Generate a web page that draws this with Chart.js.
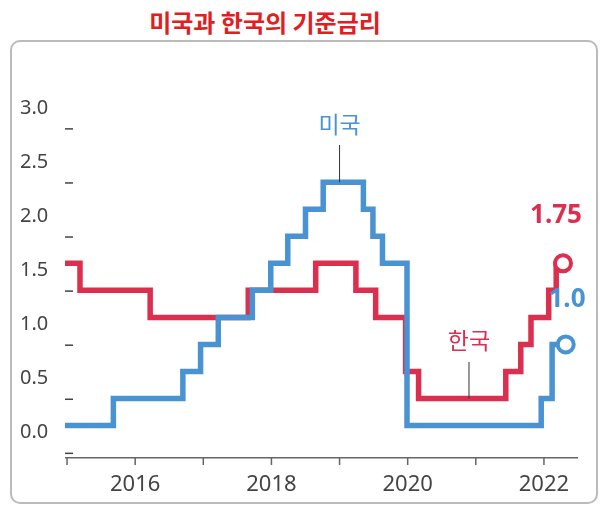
<!DOCTYPE html><html><head><meta charset="utf-8">
<script src="https://cdn.jsdelivr.net/npm/chart.js@4"></script>
<style>body{margin:0;background:#fff;font-family:"Noto Sans CJK KR","Noto Sans",sans-serif}
#frame{position:absolute;left:10px;top:40px;width:588px;height:464px;border:2px solid #bbb;border-radius:10px;box-sizing:border-box}
#title{position:absolute;top:4px;left:0;width:530px;text-align:center;color:#e02020;font-weight:bold;font-size:24px}
#wrap{position:absolute;left:0;top:0;width:612px;height:514px}</style></head><body>
<div id="title">미국과 한국의 기준금리</div><div id="frame"></div>
<div id="wrap"><canvas id="c" width="612" height="514"></canvas></div>
<script>
const yearTicks=[2016,2018,2020,2022];
const yTicks=[0,0.5,1,1.5,2,2.5,3];
const usTimes=[2014.97,2015.68,2016.7,2016.96,2017.22,2017.72,2017.99,2018.24,2018.5,2018.76,2019.35,2019.49,2019.63,2019.99,2021.96,2022.12,2022.32];
const usValues=[0.25,0.5,0.75,1.0,1.25,1.5,1.75,2.0,2.25,2.5,2.25,2.0,1.75,0.25,0.5,1.0,1.0];
const krTimes=[2014.97,2015.19,2016.22,2017.66,2018.65,2019.24,2019.53,2019.97,2020.16,2021.44,2021.66,2021.81,2022.07,2022.18,2022.28];
const krValues=[1.75,1.5,1.25,1.5,1.75,1.5,1.25,0.75,0.5,0.75,1.0,1.25,1.5,1.75,1.75];
const US='#4a93d2',KR='#dc2f4f';
function pts(t,v){return t.map((x,i)=>({x,y:v[i]}));}
function radii(n){return Array.from({length:n},(_,i)=>i===n-1?8:0);}
const deco={id:'deco',afterDatasetsDraw(ch){const c=ch.ctx,x=ch.scales.x,y=ch.scales.y;c.save();
c.fillStyle='#444';c.font='20px "Noto Sans", sans-serif';c.textAlign='left';c.textBaseline='middle';
yTicks.forEach(v=>{const py=y.getPixelForValue(v);c.fillText(v.toFixed(1),20,py-20);c.fillRect(65,py,8,1.5);});
c.textAlign='center';c.font='22px "Noto Sans", sans-serif';c.fillStyle='#444';
yearTicks.forEach(yr=>c.fillText(String(yr),x.getPixelForValue(yr),485));
c.fillStyle='#666';for(let yr=2015;yr<=2022;yr++){c.fillRect(x.getPixelForValue(yr)-0.75,458,1.5,7);}
c.fillRect(x.left,457,x.right-x.left,1.5);
c.strokeStyle='#333';c.lineWidth=1;c.beginPath();
c.moveTo(x.getPixelForValue(2019.0),y.getPixelForValue(2.5));c.lineTo(x.getPixelForValue(2019.0),145);
c.moveTo(x.getPixelForValue(2020.9),y.getPixelForValue(0.5));c.lineTo(x.getPixelForValue(2020.9),362);c.stroke();
c.font='23px "Noto Sans CJK KR", sans-serif';c.fillStyle=US;c.fillText('미국',x.getPixelForValue(2019.0),124);
c.fillStyle=KR;c.fillText('한국',x.getPixelForValue(2020.9),340);
c.font='bold 26px "Noto Sans", sans-serif';c.fillText('1.75',556,216);
c.fillStyle=US;c.fillText('1.0',567,300);c.restore();}};
new Chart(document.getElementById('c'),{type:'line',
data:{datasets:[
{data:pts(usTimes,usValues),borderColor:US,borderWidth:5.5,stepped:'before',pointRadius:radii(usTimes.length),pointBackgroundColor:'#fff',pointBorderColor:US,pointBorderWidth:4},
{data:pts(krTimes,krValues),borderColor:KR,borderWidth:5.5,stepped:'before',pointRadius:radii(krTimes.length),pointBackgroundColor:'#fff',pointBorderColor:KR,pointBorderWidth:4}]},
options:{responsive:false,animation:false,events:[],layout:{padding:{left:65,right:34,top:100,bottom:56}},
plugins:{legend:{display:false},tooltip:{enabled:false}},
scales:{x:{type:'linear',min:2014.97,max:2022.5,display:false},y:{min:-0.05,max:3.26,display:false}}},
plugins:[deco]});
</script></body></html>
